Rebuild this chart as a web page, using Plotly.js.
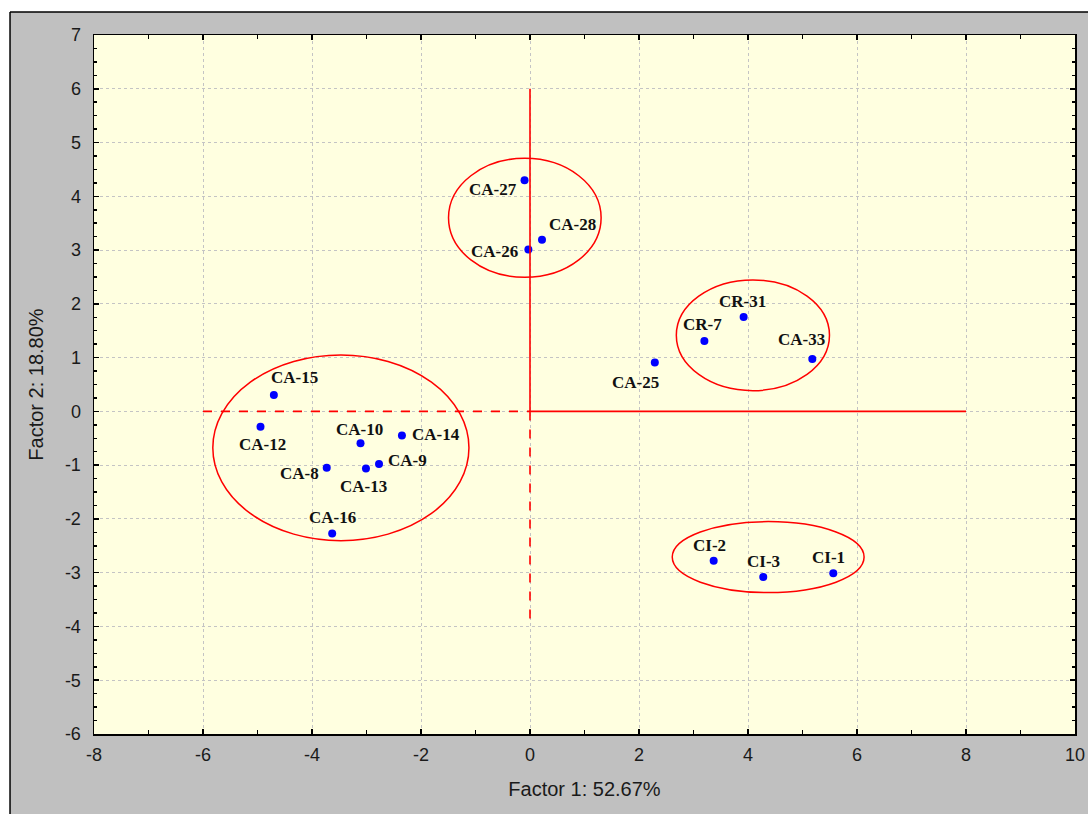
<!DOCTYPE html>
<html>
<head>
<meta charset="utf-8">
<script src="https://cdn.plot.ly/plotly-3.0.1.min.js"></script>
<style>html,body{margin:0;padding:0;background:#fff;}#chart{width:1088px;height:814px;}</style>
</head>
<body>
<div id="chart"></div>
<script>
// ---- data ----
const sampleNames = ["CA-15","CA-12","CA-10","CA-14","CA-9","CA-8","CA-13","CA-16",
                     "CA-27","CA-28","CA-26","CA-25","CR-31","CR-7","CA-33","CI-2","CI-3","CI-1"];
const factor1 = [-4.70,-4.945,-3.11,-2.35,-2.77,-3.73,-3.01,-3.63,
                 -0.10,0.22,-0.03,2.29,3.92,3.20,5.18,3.37,4.28,5.565];
const factor2 = [0.305,-0.285,-0.594,-0.45,-0.98,-1.05,-1.06,-2.27,
                 4.30,3.19,3.01,0.91,1.755,1.31,0.974,-2.777,-3.08,-3.01];

// group ellipses: centre x, centre y, radius x, radius y
const ellipseCx = [-3.47, -0.095, 4.09, 4.37];
const ellipseCy = [-0.677, 3.60, 1.415, -2.71];
const ellipseRx = [2.35, 1.40, 1.405, 1.76];
const ellipseRy = [1.727, 1.107, 1.03, 0.66];

// reference axis segments through the origin
const segX0 = [0, 0, -6, 0];
const segY0 = [0, 0, 0, 0];
const segX1 = [0, 8, 0, 0];
const segY1 = [6, 0, 0, -4];
const segDash = ["solid", "solid", "dash", "dash"];

// tick values and labels (hyphen-minus as in the reference)
const xTickVals = [-8, -6, -4, -2, 0, 2, 4, 6, 8, 10];
const xTickText = ["-8", "-6", "-4", "-2", "0", "2", "4", "6", "8", "10"];
const yTickVals = [-6, -5, -4, -3, -2, -1, 0, 1, 2, 3, 4, 5, 6, 7];
const yTickText = ["-6", "-5", "-4", "-3", "-2", "-1", "0", "1", "2", "3", "4", "5", "6", "7"];

const xTitle = "Factor 1: 52.67%";
const yTitle = "Factor 2: 18.80%";

// label placement (pixel offsets of label centre from point)
const labelDx = [21, 2, -1, 34, 28, -27, -2, 0, -32, 31, -34, -19.5, -1, -2, -10.5, -4, 0, -5];
const labelDy = [-17, 18, -14, -1, -4, 6, 18, -16, 9, -15, 1.5, 20, -16, -16, -20, -15, -15, -16];

// ---- build ----
const shapes = [];
shapes.push({type:'rect', xref:'paper', yref:'paper', x0:-0.2, x1:1.2, y0:1.0329, y1:1.2,
             fillcolor:'#ffffff', line:{width:0}, layer:'above'});
shapes.push({type:'rect', xref:'paper', yref:'paper', x0:-0.2, x1:-0.0856, y0:-0.3, y1:1.2,
             fillcolor:'#ffffff', line:{width:0}, layer:'above'});
shapes.push({type:'line', xref:'paper', yref:'paper', x0:-0.0856, x1:1.2, y0:1.0329, y1:1.0329,
             line:{color:'#000', width:1.5}, layer:'above'});
shapes.push({type:'line', xref:'paper', yref:'paper', x0:-0.0856, x1:-0.0856, y0:-0.3, y1:1.0329,
             line:{color:'#000', width:1.5}, layer:'above'});

for (let i = 0; i < segX0.length; i++) {
  shapes.push({type:'line', xref:'x', yref:'y', x0:segX0[i], y0:segY0[i], x1:segX1[i], y1:segY1[i],
               line:{color:'#ff0000', width:1.6, dash:segDash[i]}, layer:'above'});
}
for (let i = 0; i < ellipseCx.length; i++) {
  shapes.push({type:'circle', xref:'x', yref:'y',
               x0:ellipseCx[i]-ellipseRx[i], x1:ellipseCx[i]+ellipseRx[i],
               y0:ellipseCy[i]-ellipseRy[i], y1:ellipseCy[i]+ellipseRy[i],
               line:{color:'#ff0000', width:1.5}, fillcolor:'rgba(0,0,0,0)', layer:'above'});
}

const annotations = sampleNames.map((n, i) => ({
  x: factor1[i], y: factor2[i], xref:'x', yref:'y', text: '<b>' + n + '</b>', showarrow:false,
  xanchor:'center', yanchor:'middle', xshift: labelDx[i], yshift: -labelDy[i],
  font:{family:'"Liberation Serif", "Times New Roman", serif', size:17, color:'#111'}
}));

const trace = {
  type:'scatter', mode:'markers', x: factor1, y: factor2, text: sampleNames,
  marker:{color:'#0000ff', size:8}, hoverinfo:'text'
};

const axisCommon = {
  showline:true, linecolor:'#000', linewidth:1.5, mirror:'ticks',
  ticks:'inside', tickcolor:'#000', tickwidth:1.5, ticklen:5,
  showgrid:true, gridcolor:'#c4c4c4', griddash:'dot', gridwidth:1,
  zeroline:false, tickmode:'array',
  tickfont:{family:'"Liberation Sans", Arial, sans-serif', size:18, color:'#1a1a1a'}
};

const layout = {
  width:1088, height:814,
  margin:{l:94, r:13, t:35, b:80},
  paper_bgcolor:'#c0c0c0', plot_bgcolor:'#ffffe0',
  showlegend:false,
  xaxis: Object.assign({}, axisCommon, {
    range:[-8,10], tickvals:xTickVals, ticktext:xTickText,
    minor:{dtick:1, tick0:-8, ticks:'inside', ticklen:4, tickcolor:'#000', tickwidth:1.5, showgrid:false},
    ticklabelstandoff:4,
    title:{text:xTitle, standoff:18, font:{family:'"Liberation Sans", Arial, sans-serif', size:20, color:'#1a1a1a'}}
  }),
  yaxis: Object.assign({}, axisCommon, {
    range:[-6,7], tickvals:yTickVals, ticktext:yTickText,
    minor:{dtick:0.25, tick0:-6, ticks:'inside', ticklen:3, tickcolor:'#000', tickwidth:1.5, showgrid:false},
    ticklabelstandoff:8,
    title:{text:yTitle, standoff:16, font:{family:'"Liberation Sans", Arial, sans-serif', size:20, color:'#1a1a1a'}}
  }),
  shapes: shapes,
  annotations: annotations
};

Plotly.newPlot('chart', [trace], layout, {displayModeBar:false, staticPlot:true});
</script>
</body>
</html>
